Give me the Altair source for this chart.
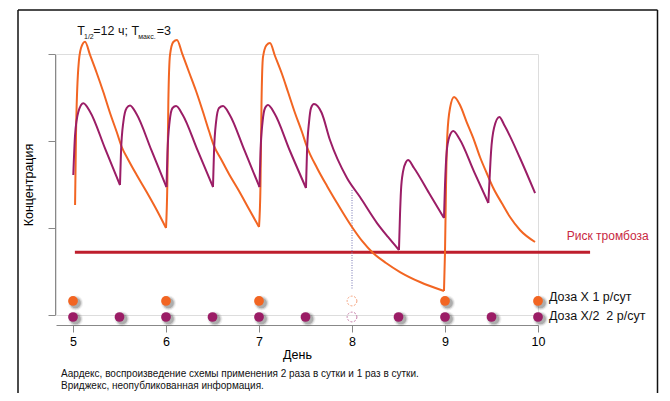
import altair as alt
import pandas as pd

ORANGE = "#F26522"
PURPLE = "#9B1D66"
RISK = "#BE1E2D"
FONT = "Liberation Sans"

# ---- concentration curves (day, relative concentration) ----
orange_day = [5.022, 5.032, 5.057, 5.086, 5.129, 5.183, 5.255, 5.326, 5.398, 5.470, 5.524, 5.595, 5.685, 5.792, 5.900, 6.000,
              6.014, 6.025, 6.043, 6.078, 6.118, 6.172, 6.247, 6.323, 6.398, 6.462, 6.516, 6.591, 6.677, 6.785, 6.892, 7.000,
              7.016, 7.027, 7.043, 7.081, 7.118, 7.172, 7.247, 7.312, 7.387, 7.462, 7.516, 7.624, 7.731, 7.839, 8.000,
              8.108, 8.226, 8.366, 8.516, 8.731, 8.989,
              9.000, 9.011, 9.025, 9.054, 9.097, 9.161, 9.233, 9.304, 9.376, 9.448, 9.519, 9.610, 9.699, 9.806, 9.968]
orange_conc = [1.264, 2.069, 2.839, 3.069, 3.141, 2.989, 2.782, 2.563, 2.322, 2.103, 1.931, 1.782, 1.609, 1.414, 1.207, 1.000,
               1.494, 2.448, 2.989, 3.138, 3.161, 3.011, 2.793, 2.575, 2.333, 2.115, 1.943, 1.793, 1.621, 1.425, 1.218, 1.011,
               1.494, 2.448, 2.966, 3.103, 3.126, 2.977, 2.770, 2.563, 2.322, 2.103, 1.931, 1.690, 1.483, 1.287, 1.011,
               0.851, 0.713, 0.598, 0.494, 0.379, 0.276,
               0.724, 1.494, 2.069, 2.379, 2.506, 2.414, 2.218, 2.034, 1.816, 1.632, 1.460, 1.287, 1.126, 0.977, 0.839]

purple_day = [5.003, 5.022, 5.057, 5.111, 5.183, 5.344, 5.505,
              5.516, 5.541, 5.577, 5.613, 5.683, 5.844, 6.005,
              6.016, 6.038, 6.070, 6.108, 6.177, 6.341, 6.505,
              6.516, 6.538, 6.570, 6.613, 6.683, 6.844, 7.005,
              7.016, 7.038, 7.065, 7.097, 7.167, 7.333, 7.505,
              7.516, 7.538, 7.559, 7.591, 7.672, 7.763, 7.946, 8.086, 8.269, 8.387, 8.505,
              8.516, 8.527, 8.548, 8.581, 8.602, 8.667, 8.828, 8.989,
              9.000, 9.018, 9.046, 9.089, 9.156, 9.312, 9.466,
              9.476, 9.495, 9.527, 9.584, 9.640, 9.806, 9.968]
purple_conc = [1.609, 2.069, 2.333, 2.433, 2.337, 1.916, 1.494,
               1.874, 2.218, 2.379, 2.408, 2.310, 1.891, 1.471,
               1.874, 2.218, 2.379, 2.402, 2.305, 1.889, 1.471,
               1.874, 2.218, 2.379, 2.402, 2.305, 1.891, 1.471,
               1.874, 2.218, 2.379, 2.414, 2.316, 1.885, 1.460,
               1.874, 2.218, 2.379, 2.425, 2.328, 2.011, 1.575, 1.356, 1.057, 0.897, 0.747,
               1.149, 1.437, 1.644, 1.759, 1.782, 1.690, 1.402, 1.115,
               1.494, 1.874, 2.046, 2.115, 2.023, 1.649, 1.287,
               1.494, 1.874, 2.149, 2.276, 2.178, 1.805, 1.402]

# ---- thrombosis risk threshold ----
risk_level = 0.72
risk_start, risk_end = 5.02, 10.56
risk_label = "Риск тромбоза"
risk_label_day, risk_label_conc = 10.31, 0.908

# ---- dosing schedule ----
dose_once_days = [5, 6, 7, 9, 10]
dose_twice_days = [5, 5.5, 6, 6.5, 7, 7.5, 8.5, 9, 9.5, 10]
missed_day = 8
row_once, row_twice = 0.161, -0.023
legend_labels = ["Доза X 1 р/сут", "Доза X/2\u00a0 2 р/сут"]
missed_line = [1.437, 0.287]

# ---- axes ----
x_ticks = [5, 6, 7, 8, 9, 10]
y_ticks = [0, 1, 2, 3]
x_title = "День"
y_title = "Концентрация"

# ---- annotation pieces (T1/2 = 12 h; Tmax = 3) ----
ann_text = ["T", "1/2", "=12 ч; T", "макс.", "=3"]
ann_day = [5.046, 5.118, 5.218, 5.702, 5.900]
ann_conc = [3.218, 3.172, 3.218, 3.178, 3.218]
ann_size = [12.5, 7, 12.5, 7, 12.5]

# ---- footnote ----
foot_text = ["Аардекс, воспроизведение схемы применения 2 раза в сутки и 1 раз в сутки.",
             "Вриджекс, неопубликованная информация."]
foot_day = [4.871, 4.871]
foot_conc = [-0.678, -0.816]


def segmented(days, conc):
    """Split a curve at its troughs so each dosing cycle is drawn as its own smooth piece."""
    rows, seg, n = [], 0, len(days)
    for k in range(n):
        rows.append({"day": days[k], "conc": conc[k], "seg": seg, "i": k})
        if 0 < k < n - 1 and conc[k] < conc[k - 1] and conc[k] < conc[k + 1]:
            seg += 1
            rows.append({"day": days[k], "conc": conc[k], "seg": seg, "i": k})
    return pd.DataFrame(rows)


# ================= build =================
xs = alt.Scale(domain=[4.817, 10], nice=False, zero=False)
ys = alt.Scale(domain=[0, 3], nice=False, zero=False)
xaxis = alt.Axis(values=x_ticks, offset=10, tickSize=7, grid=False, labelFontSize=12.5, labelFlush=False,
                 labelPadding=3, titleFontSize=12.5, titleFontWeight="normal", titlePadding=1)
yaxis = alt.Axis(values=y_ticks, offset=1, tickSize=7, grid=False, labels=False,
                 titleFontSize=12.5, titleFontWeight="normal", titlePadding=12)


def X(field="day"):
    return alt.X(f"{field}:Q", scale=xs, axis=xaxis, title=x_title)


def Y(field="conc"):
    return alt.Y(f"{field}:Q", scale=ys, axis=yaxis, title=y_title)


orange_df = segmented(orange_day, orange_conc)
purple_df = segmented(purple_day, purple_conc)

risk_df = pd.DataFrame({"day": [risk_start], "day2": [risk_end], "conc": [risk_level]})
risk = alt.Chart(risk_df).mark_rule(color=RISK, strokeWidth=3).encode(x=X(), x2="day2:Q", y=Y())
risk_txt = alt.Chart(pd.DataFrame({"day": [risk_label_day], "conc": [risk_label_conc], "t": [risk_label]})).mark_text(
    align="left", baseline="middle", fontSize=12, font=FONT, color="#C8283F").encode(x=X(), y=Y(), text="t:N")

orange = alt.Chart(orange_df).mark_line(color=ORANGE, strokeWidth=2, interpolate="monotone").encode(
    x=X(), y=Y(), detail="seg:N", order="i:Q")
purple = alt.Chart(purple_df).mark_line(color=PURPLE, strokeWidth=2, interpolate="monotone").encode(
    x=X(), y=Y(), detail="seg:N", order="i:Q")

missed_df = pd.DataFrame({"day": [missed_day], "conc": [missed_line[0]], "conc2": [missed_line[1]]})
missed = alt.Chart(missed_df).mark_rule(color="#8C8CC0", strokeWidth=1.2, strokeDash=[1, 1.5]).encode(
    x=X(), y=Y(), y2="conc2:Q")

dots_once = pd.DataFrame({"day": dose_once_days, "conc": [row_once] * len(dose_once_days)})
dots_twice = pd.DataFrame({"day": dose_twice_days, "conc": [row_twice] * len(dose_twice_days)})
dots_all = pd.concat([dots_once, dots_twice])

shadows = []
for sz, op in [(230, 0.07), (165, 0.14), (115, 0.25)]:
    shadows.append(alt.Chart(dots_all).mark_circle(color="#333333", size=sz, opacity=op, xOffset=2.5, yOffset=2).encode(
        x=X(), y=Y()))

d_once = alt.Chart(dots_once).mark_circle(color=ORANGE, size=95, opacity=1).encode(x=X(), y=Y())
d_twice = alt.Chart(dots_twice).mark_circle(color=PURPLE, size=95, opacity=1).encode(x=X(), y=Y())

hollow_df = pd.DataFrame({"day": [missed_day, missed_day], "conc": [row_once, row_twice],
                          "k": ["once", "twice"]})
hollow = alt.Chart(hollow_df).mark_point(shape="circle", filled=False, size=95, strokeWidth=1,
                                         strokeDash=[2, 1.5], opacity=1).encode(
    x=X(), y=Y(),
    color=alt.Color("k:N", scale=alt.Scale(domain=["once", "twice"], range=["#F5A07A", "#C47AA6"]), legend=None))

leg_df = pd.DataFrame({"day": [10, 10], "conc": [row_once + 0.045, row_twice + 0.012], "t": legend_labels})
leg = alt.Chart(leg_df).mark_text(align="left", baseline="middle", dx=11, fontSize=12.5, font=FONT,
                                  color="#111111").encode(x=X(), y=Y(), text="t:N")

ann_df = pd.DataFrame({"day": ann_day, "conc": ann_conc, "t": ann_text, "fs": ann_size})
ann = alt.Chart(ann_df).mark_text(align="left", baseline="alphabetic", font=FONT, color="#111111").encode(
    x=X(), y=Y(), text="t:N", size=alt.Size("fs:Q", scale=None, legend=None))

foot_df = pd.DataFrame({"day": foot_day, "conc": foot_conc, "t": foot_text})
foot = alt.Chart(foot_df).mark_text(align="left", baseline="middle", font=FONT, fontSize=10,
                                    color="#111111").encode(x=X(), y=Y(), text="t:N")

# decorative frame around the figure
one = alt.Data(values=[{}])
frame_top = alt.Chart(one).mark_rule(color="#111111", strokeWidth=1.5).encode(
    x=alt.value(-38), x2=alt.value(601.5), y=alt.value(-44))
frame_left = alt.Chart(one).mark_rule(color="#111111", strokeWidth=1.5).encode(
    x=alt.value(-38), y=alt.value(-44), y2=alt.value(345))
frame_right = alt.Chart(one).mark_rule(color="#111111", strokeWidth=1.5).encode(
    x=alt.value(601.5), y=alt.value(-44), y2=alt.value(345))

chart = alt.layer(
    risk, missed, orange, purple, *shadows, d_once, d_twice, hollow, leg, risk_txt, ann, foot,
    frame_top, frame_left, frame_right
).properties(
    width=482, height=261,
    autosize=alt.AutoSizeParams(type="none"),
    padding={"left": 48, "top": 46, "right": 122, "bottom": 78},
).configure_view(strokeWidth=0, stroke="transparent").configure_axis(
    domainColor="#111111", domainWidth=1.5, tickColor="#111111", tickWidth=1.5, grid=False,
    labelColor="#111111", titleColor="#111111", labelFont=FONT, titleFont=FONT
).configure(background="white")

chart.save("out.html", embed_options={"renderer": "svg", "actions": False})
